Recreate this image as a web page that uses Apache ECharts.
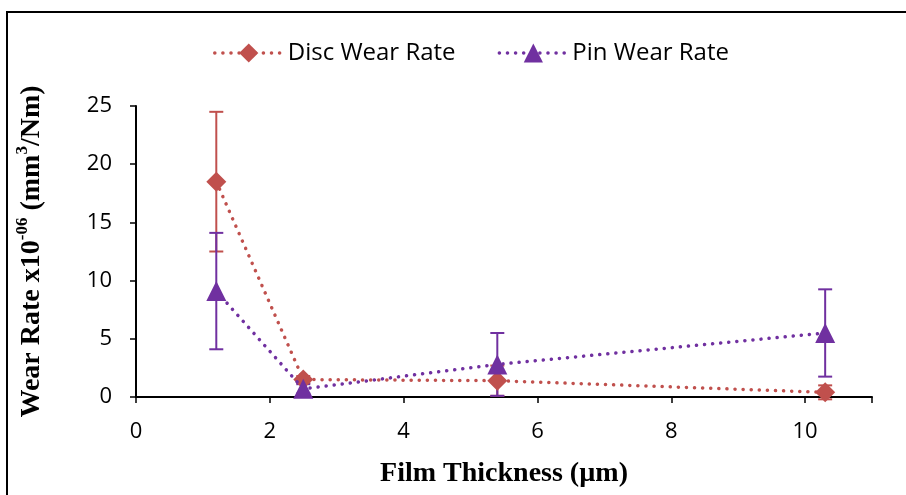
<!DOCTYPE html>
<html>
<head>
<meta charset="utf-8">
<script src="https://cdn.jsdelivr.net/npm/echarts@6/dist/echarts.min.js"></script>
<style>
  html, body { margin: 0; padding: 0; background: #fff; }
  #chart { width: 906px; height: 495px; }
</style>
</head>
<body>
<div id="chart"></div>
<script>
// Film thickness (µm) for each coating
const thickness = [1.2, 2.5, 5.4, 10.3];
// Wear rates x10^-6 mm^3/Nm and their standard deviations
const discWear = [18.5, 1.5, 1.4, 0.4];
const discErr = [6.0, 0.3, 1.3, 0.6];
const pinWear = [9.1, 0.7, 2.8, 5.5];
const pinErr = [5.0, 0.4, 2.7, 3.75];

const xTicks = [0, 2, 4, 6, 8, 10];
const yTicks = [0, 5, 10, 15, 20, 25];

const discColor = '#C0504D';
const pinColor = '#7030A0';

const pairs = (xs, ys) => xs.map((x, i) => [x, ys[i]]);
const errRows = (xs, ys, es) => xs.map((x, i) => [x, ys[i] - es[i], ys[i] + es[i]]);

function errorBars(color) {
  return function (params, api) {
    const x = api.value(0);
    const lo = api.coord([x, api.value(1)]);
    const hi = api.coord([x, api.value(2)]);
    const half = 7;
    const style = { stroke: color, lineWidth: 2 };
    return {
      type: 'group',
      children: [
        { type: 'line', shape: { x1: lo[0], y1: lo[1], x2: hi[0], y2: hi[1] }, style },
        { type: 'line', shape: { x1: hi[0] - half, y1: hi[1], x2: hi[0] + half, y2: hi[1] }, style },
        { type: 'line', shape: { x1: lo[0] - half, y1: lo[1], x2: lo[0] + half, y2: lo[1] }, style }
      ]
    };
  };
}

const tickFont = { fontFamily: 'Open Sans', fontSize: 22, color: '#000' };
const serifBold = { fontFamily: 'Liberation Serif', fontWeight: 'bold', color: '#000' };
const dotted = { width: 3.5, type: [0.1, 8], cap: 'round' };

const chart = echarts.init(document.getElementById('chart'), null, { renderer: 'canvas' });
chart.setOption({
  animation: false,
  backgroundColor: '#fff',
  graphic: [{
    type: 'rect',
    shape: { x: 7, y: 12, width: 960, height: 600 },
    style: { fill: 'none', stroke: '#000', lineWidth: 2 },
    silent: true,
    z: 100
  }],
  legend: {
    top: 36,
    left: 208,
    itemWidth: 68,
    itemHeight: 24,
    itemGap: 42,
    lineStyle: Object.assign({}, dotted),
    textStyle: { fontFamily: 'Open Sans', fontSize: 24, color: '#000' },
    data: ['Disc Wear Rate', 'Pin Wear Rate']
  },
  grid: { left: 136, right: 34, top: 106, bottom: 98, containLabel: false, outerBoundsMode: 'none' },
  xAxis: {
    type: 'value',
    min: 0,
    max: 11,
    interval: 2,
    name: 'Film Thickness (µm)',
    nameLocation: 'middle',
    nameGap: 63,
    nameTextStyle: Object.assign({ fontSize: 28 }, serifBold),
    axisLine: { onZero: false, lineStyle: { color: '#000', width: 2 } },
    axisTick: { show: true, length: 6, lineStyle: { color: '#000', width: 1.5 } },
    axisLabel: Object.assign({
      margin: 24,
      formatter: v => (xTicks.indexOf(v) >= 0 ? String(v) : '')
    }, tickFont),
    splitLine: { show: false }
  },
  yAxis: {
    type: 'value',
    min: 0,
    max: 25,
    interval: 5,
    name: '{b|Wear Rate x10}{sup|-06}{b| (mm}{sup|3}{b|/Nm)}',
    nameLocation: 'middle',
    nameRotate: 90,
    nameGap: 90,
    nameTextStyle: {
      rich: {
        b: Object.assign({ fontSize: 28, lineHeight: 34, verticalAlign: 'bottom' }, serifBold),
        sup: Object.assign({ fontSize: 17, lineHeight: 34, verticalAlign: 'top', padding: [2, 0, 0, 0] }, serifBold)
      }
    },
    axisLine: { show: true, lineStyle: { color: '#000', width: 2 } },
    axisTick: { show: true, length: 6, lineStyle: { color: '#000', width: 1.5 } },
    axisLabel: Object.assign({
      margin: 24,
      formatter: v => (yTicks.indexOf(v) >= 0 ? String(v) : '')
    }, tickFont),
    splitLine: { show: false }
  },
  series: [
    {
      name: 'Disc Wear Rate',
      type: 'line',
      data: pairs(thickness, discWear),
      symbol: 'diamond',
      symbolSize: 20,
      itemStyle: { color: discColor },
      lineStyle: Object.assign({ color: discColor }, dotted),
      z: 3
    },
    {
      name: 'Pin Wear Rate',
      type: 'line',
      data: pairs(thickness, pinWear),
      symbol: 'triangle',
      symbolSize: [20, 20],
      itemStyle: { color: pinColor },
      lineStyle: Object.assign({ color: pinColor }, dotted),
      z: 4
    },
    {
      type: 'custom',
      name: 'Disc Wear Rate',
      renderItem: errorBars(discColor),
      data: errRows(thickness, discWear, discErr),
      encode: { x: 0, y: [1, 2] },
      z: 2
    },
    {
      type: 'custom',
      name: 'Pin Wear Rate',
      renderItem: errorBars(pinColor),
      data: errRows(thickness, pinWear, pinErr),
      encode: { x: 0, y: [1, 2] },
      z: 2
    }
  ]
});
</script>
</body>
</html>
